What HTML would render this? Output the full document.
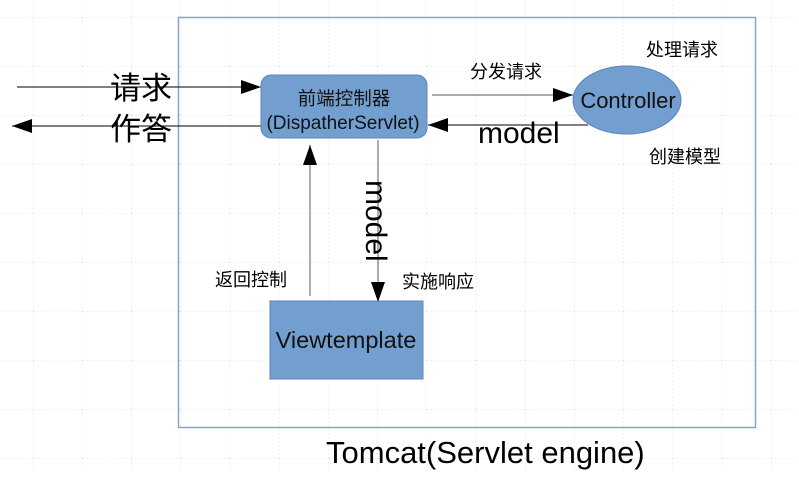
<!DOCTYPE html>
<html><head><meta charset="utf-8"><style>
body{margin:0;background:#fff}
svg text{font-family:"Liberation Sans","Noto Sans CJK SC",sans-serif}
</style></head><body>
<svg width="799" height="474" viewBox="0 0 799 474" xmlns="http://www.w3.org/2000/svg">
<defs>
<pattern id="g" x="33" y="17" width="49.2" height="49" patternUnits="userSpaceOnUse">
<path d="M0 0H49.2M0 0V49" stroke="#d8d8d8" stroke-width="1" stroke-dasharray="1.5 2.5" fill="none"/>
</pattern>
<marker id="b" markerWidth="20" markerHeight="14" refX="20" refY="7" orient="auto" markerUnits="userSpaceOnUse"><path d="M0 0L20 7L0 14Z" fill="#000"/></marker>
</defs>
<rect width="799" height="474" fill="url(#g)"/>
<rect x="178.5" y="17.5" width="577" height="410" fill="none" stroke="#8aa4c8" stroke-width="1.5"/>
<line x1="17" y1="87" x2="261" y2="87" stroke="#000" stroke-width="1" marker-end="url(#b)"/>
<line x1="261" y1="126" x2="12" y2="126" stroke="#000" stroke-width="1" marker-end="url(#b)"/>
<text x="110" y="99" font-size="31">请求</text>
<text x="110" y="140" font-size="31">作答</text>
<rect x="261" y="75" width="166" height="63" rx="10" fill="#729fcf" stroke="#5b84b8"/>
<text x="344" y="105" font-size="18.5" text-anchor="middle" fill="#111">前端控制器</text>
<text x="343" y="129" font-size="19" text-anchor="middle" fill="#111">(DispatherServlet)</text>
<line x1="432" y1="95" x2="573" y2="95" stroke="#777" stroke-width="1.2" marker-end="url(#b)"/>
<text x="470" y="78" font-size="18">分发请求</text>
<ellipse cx="627" cy="100" rx="54" ry="34" fill="#729fcf" stroke="#5b84b8"/>
<text x="628" y="108" font-size="22" text-anchor="middle" fill="#111">Controller</text>
<line x1="588" y1="125" x2="428" y2="125" stroke="#000" stroke-width="1" marker-end="url(#b)"/>
<text x="478" y="143" font-size="30">model</text>
<text x="646" y="56" font-size="18">处理请求</text>
<text x="649" y="163" font-size="18">创建模型</text>
<line x1="378" y1="140" x2="378" y2="302" stroke="#777" stroke-width="1.2" marker-end="url(#b)"/>
<text transform="translate(366,180) rotate(90)" font-size="30">model</text>
<line x1="310" y1="296" x2="310" y2="145" stroke="#777" stroke-width="1.2" marker-end="url(#b)"/>
<text x="215" y="286" font-size="18">返回控制</text>
<text x="402" y="288" font-size="18">实施响应</text>
<rect x="270" y="301" width="153" height="78" fill="#729fcf" stroke="#5b84b8"/>
<text x="346" y="348" font-size="23.5" text-anchor="middle" fill="#111">Viewtemplate</text>
<text x="326" y="463" font-size="31">Tomcat(Servlet engine)</text>
</svg>
</body></html>
